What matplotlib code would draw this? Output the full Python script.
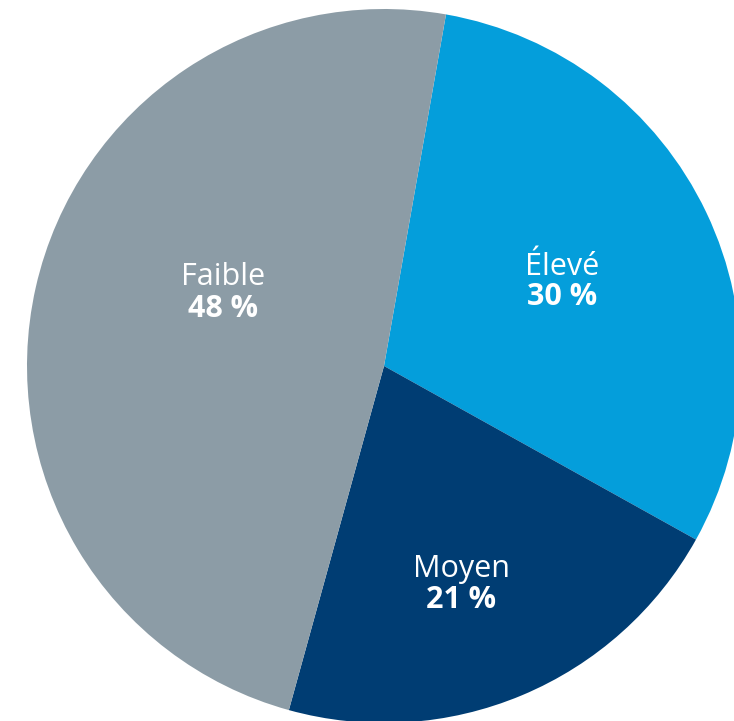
import matplotlib.pyplot as plt

# Répartition par niveau
categories = ["Élevé", "Moyen", "Faible"]
valeurs = [30, 21, 48]
couleurs = ["#049EDB", "#003D73", "#8C9CA6"]

# position des étiquettes (x, ligne de base du nom, ligne de base du %)
pos_labels = [(0.50, 0.255, 0.171), (0.216, -0.590, -0.677), (-0.45, 0.227, 0.137)]

W, H = 734, 721
cx, cy, r = 384, 366, 357

fig = plt.figure(figsize=(W / 100, H / 100), dpi=100)
ax = fig.add_axes([(cx - r) / W, (H - cy - r) / H, 2 * r / W, 2 * r / H])

ax.pie(valeurs, colors=couleurs, startangle=80, counterclock=False,
       radius=1, normalize=True, wedgeprops=dict(linewidth=0))
ax.set_xlim(-1, 1)
ax.set_ylim(-1, 1)
ax.set_aspect("auto")
ax.axis("off")

for cat, val, (x, y1, y2) in zip(categories, valeurs, pos_labels):
    ax.text(x, y1, cat, ha="center", va="baseline", color="white",
            fontsize=22, family="Open Sans")
    ax.text(x, y2, f"{val} %", ha="center", va="baseline", color="white",
            fontsize=22, family="Open Sans", fontweight="bold")

fig.savefig("out.png", dpi=100)
plt.close()
